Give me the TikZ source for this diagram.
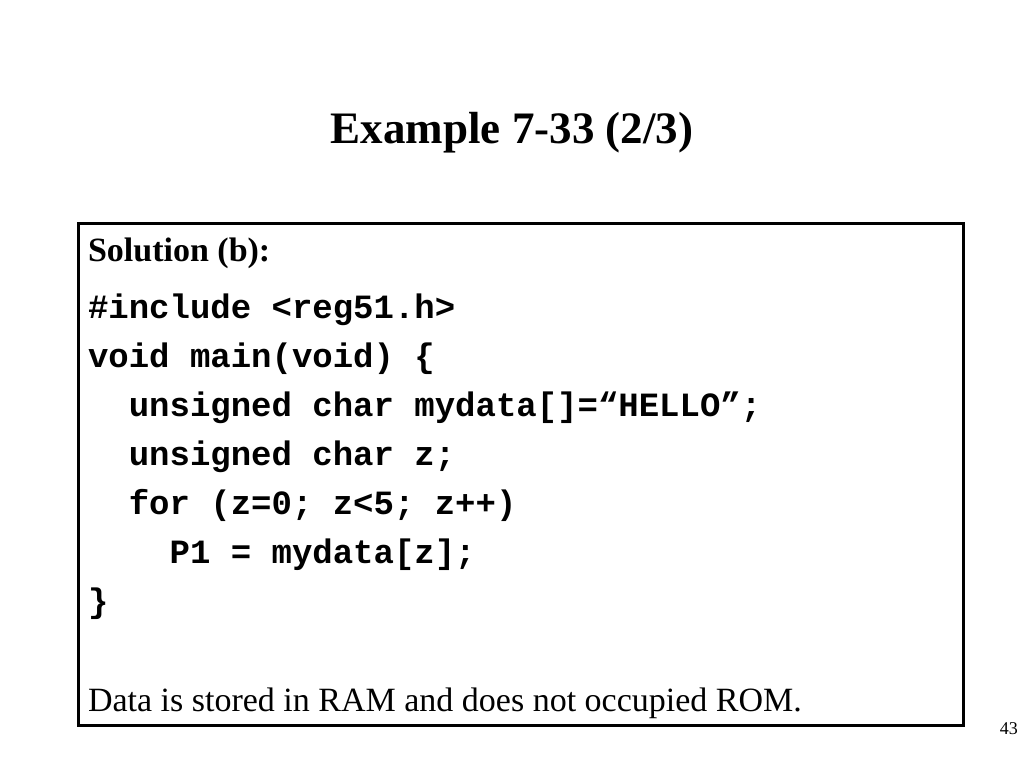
\documentclass[tikz,border=0pt]{standalone}
\usepackage{fontspec}
\setmainfont{Liberation Serif}
\newfontfamily\codefont{Liberation Mono}
\begin{document}
\begin{tikzpicture}[x=1pt,y=-1pt,
  txt/.style={anchor=base west,inner sep=0pt,outer sep=0pt},
  code/.style={txt,font=\codefont\bfseries\fontsize{34}{40}\selectfont},
  frame/.style={draw=black,line width=3pt}]
\useasboundingbox[fill=white] (0,0) rectangle (1024,768);
\node[anchor=base,inner sep=0pt,font=\bfseries\fontsize{45}{50}\selectfont] (title) at (512,143) {Example 7-33 (2/3)};
\draw[frame] (78,223) rectangle (963,725);
\node[txt,font=\bfseries\fontsize{34}{38}\selectfont] (sol) at (88,261) {Solution (b):};
\node[code] (l1) at (88,318) {\#include <reg51.h>};
\node[code] (l2) at (88,367) {void main(void) \{};
\node[code] (l3) at (88,416) {\ \ unsigned char mydata[]=“HELLO”;};
\node[code] (l4) at (88,465) {\ \ unsigned char z;};
\node[code] (l5) at (88,514) {\ \ for (z=0; z<5; z++)};
\node[code] (l6) at (88,563) {\ \ \ \ P1 = mydata[z];};
\node[code] (l7) at (88,612) {\}};
\node[txt,font=\fontsize{34}{40}\selectfont] (data) at (88,711) {Data is stored in RAM and does not occupied ROM.};
\node[anchor=base east,inner sep=0pt,font=\fontsize{18}{20}\selectfont] (page) at (1018,734) {43};
\end{tikzpicture}
\end{document}
